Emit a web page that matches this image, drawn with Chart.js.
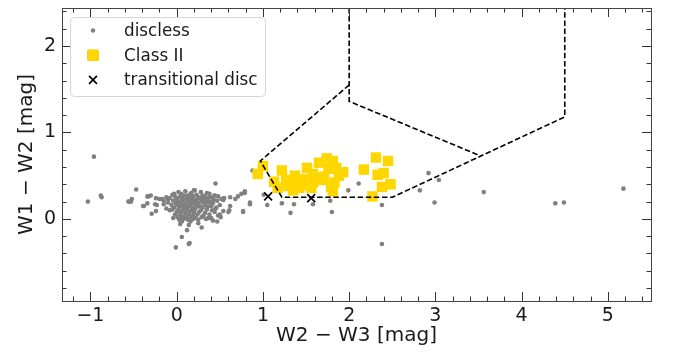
<!DOCTYPE html>
<html>
<head>
<meta charset="utf-8">
<script src="https://cdn.jsdelivr.net/npm/chart.js@4.4.1/dist/chart.umd.min.js"></script>
<style>
  html, body { margin: 0; padding: 0; background: #fff; }
  #wrap { width: 676px; height: 352px; }
</style>
</head>
<body>
<div id="wrap"><canvas id="ccd"></canvas></div>
<script>
// axis ranges
const xMin = -1.33, xMax = 5.5;
const yMin = -0.95, yMax = 2.44;

// W2-W3, W1-W2 pairs for the disc-less sources
const discless = [
  // outliers to the left
  [-0.96, 0.72], [-1.03, 0.20], [-0.88, 0.27], [-0.87, 0.25], [-0.56, 0.20], [-0.53, 0.20],
  [-0.52, 0.23], [-0.47, 0.34], [-0.39, 0.15], [-0.34, 0.26], [-0.34, 0.18], [-0.55, 0.20],
  [-0.33, 0.26], [-0.30, 0.27], [-0.38, 0.15], [-0.24, 0.24], [-0.25, 0.17], [-0.23, 0.16],
  [-0.17, 0.23], [-0.15, 0.17], [-0.29, 0.06], [-0.24, 0.09], [-0.10, 0.23], [-0.12, 0.12],
  [-0.08, 0.10], [-0.03, 0.29], [-0.04, 0.01],
  // main clump
  [0.02, 0.31], [0.10, 0.32], [0.17, 0.30], [0.21, 0.33], [0.28, 0.31], [0.35, 0.30],
  [-0.05, 0.28], [0.05, 0.29], [0.12, 0.27], [0.16, 0.29], [0.23, 0.28], [0.30, 0.27], [0.38, 0.29], [0.44, 0.27],
  [-0.12, 0.25], [-0.02, 0.26], [0.03, 0.25], [0.08, 0.27], [0.14, 0.25], [0.19, 0.26], [0.25, 0.25], [0.33, 0.26], [0.40, 0.25], [0.48, 0.26],
  [-0.20, 0.23], [-0.08, 0.24], [0.00, 0.23], [0.06, 0.24], [0.11, 0.23], [0.17, 0.24], [0.21, 0.22], [0.27, 0.24], [0.31, 0.23], [0.36, 0.24], [0.43, 0.22], [0.55, 0.24],
  [-0.15, 0.21], [-0.04, 0.21], [0.02, 0.20], [0.07, 0.22], [0.13, 0.21], [0.18, 0.20], [0.23, 0.21], [0.29, 0.20], [0.34, 0.21], [0.39, 0.20], [0.47, 0.21],
  [-0.10, 0.19], [-0.01, 0.18], [0.04, 0.19], [0.09, 0.18], [0.15, 0.19], [0.20, 0.18], [0.25, 0.19], [0.32, 0.18], [0.37, 0.19], [0.42, 0.18],
  [-0.06, 0.16], [0.01, 0.16], [0.06, 0.15], [0.11, 0.16], [0.16, 0.15], [0.22, 0.16], [0.27, 0.15], [0.33, 0.16], [0.40, 0.15], [0.50, 0.16],
  [-0.03, 0.13], [0.03, 0.14], [0.08, 0.13], [0.13, 0.14], [0.18, 0.13], [0.24, 0.14], [0.30, 0.13], [0.36, 0.14], [0.46, 0.13],
  [-0.05, 0.11], [0.02, 0.11], [0.07, 0.10], [0.12, 0.11], [0.17, 0.10], [0.21, 0.11], [0.28, 0.10], [0.35, 0.11], [0.41, 0.10],
  [0.00, 0.08], [0.05, 0.08], [0.10, 0.07], [0.15, 0.08], [0.20, 0.07], [0.26, 0.08], [0.33, 0.07], [0.44, 0.08],
  [-0.02, 0.05], [0.04, 0.05], [0.09, 0.04], [0.14, 0.05], [0.19, 0.04], [0.24, 0.05], [0.31, 0.04], [0.38, 0.05],
  [0.01, 0.02], [0.06, 0.02], [0.12, 0.01], [0.17, 0.02], [0.22, 0.01], [0.29, 0.02], [0.40, 0.01],
  [0.03, -0.01], [0.08, 0.00], [0.13, -0.01], [0.19, 0.00], [0.25, -0.01], [0.34, 0.00],
  [0.06, -0.03], [0.16, -0.03], [0.25, -0.05], [0.42, -0.02], [0.47, -0.03],
  [0.04, -0.06], [0.14, -0.07], [0.29, -0.10], [0.12, -0.13],
  [0.06, -0.21], [0.14, -0.29], [-0.01, -0.33], [0.15, -0.28],
  // right-hand tail
  [0.45, 0.41], [0.20, 0.33], [0.44, 0.27], [0.52, 0.23], [0.53, 0.23], [0.54, 0.22],
  [0.62, 0.25], [0.68, 0.23], [0.71, 0.26], [0.75, 0.29], [0.79, 0.32], [0.85, 0.17],
  [0.62, 0.15], [0.54, 0.09], [0.61, 0.10], [0.77, 0.08], [0.45, 0.12], [0.48, 0.04],
  [0.51, 0.02], [0.37, 0.01], [0.60, 0.08], [0.50, 0.05],
  // scattered beyond the clump
  [1.01, 0.28], [0.88, 0.56], [0.79, 0.30], [0.85, 0.19], [0.77, 0.09], [1.05, 0.16],
  [1.22, 0.18], [1.32, 0.07], [1.36, 0.17], [1.58, 0.17], [1.78, 0.21], [1.80, 0.08],
  [1.99, 0.33], [2.11, 0.41], [2.38, 0.16], [2.92, 0.53], [3.04, 0.45], [2.82, 0.33],
  [2.99, 0.19], [3.56, 0.31], [4.39, 0.18], [4.49, 0.19], [5.18, 0.35], [2.38, -0.29]
];

// Class II sources
const classII = [
  [1.00, 0.61], [0.94, 0.52], [1.13, 0.43], [1.17, 0.36], [1.22, 0.56], [1.29, 0.38],
  [1.35, 0.33], [1.37, 0.50], [1.46, 0.46], [1.48, 0.39], [1.51, 0.59], [1.58, 0.52],
  [1.58, 0.42], [1.56, 0.36], [1.65, 0.65], [1.68, 0.45], [1.71, 0.49], [1.74, 0.70],
  [1.79, 0.37], [1.81, 0.32], [1.81, 0.67], [1.85, 0.59], [1.83, 0.42], [1.93, 0.54],
  [1.40, 0.42], [1.76, 0.58], [1.62, 0.47], [1.42, 0.36], [1.27, 0.45], [1.88, 0.50],
  [2.17, 0.57], [2.31, 0.71], [2.45, 0.67], [2.33, 0.51], [2.40, 0.53], [2.38, 0.37],
  [2.48, 0.40], [2.27, 0.26]
];

// transitional discs
const transitional = [[1.06, 0.26], [1.56, 0.24]];

// dashed selection boundaries
const boundaryLeft = [[2.0, 1.55], [0.97, 0.67], [1.22, 0.25], [2.5, 0.25], [4.5, 1.18], [4.5, yMax]];
const boundaryUpper = [[2.0, yMax], [2.0, 1.36], [3.52, 0.73]];

const labels = ['discless', 'Class II', 'transitional disc'];

const toXY = arr => arr.map(p => ({ x: p[0], y: p[1] }));
const minus = v => (v < 0 ? '\u2212' + Math.abs(v) : String(v));

Chart.defaults.font.family = "'DejaVu Sans', sans-serif";
Chart.defaults.color = '#1a1a1a';

// matplotlib-ish frame with inward major/minor ticks
const frameTicks = {
  id: 'frameTicks',
  afterDatasetsDraw(chart) {
    const { ctx, chartArea: a, scales: { x, y } } = chart;
    ctx.save();
    ctx.strokeStyle = '#333';
    ctx.lineWidth = 1;
    ctx.beginPath();
    for (let i = -13; i <= 54; i++) {
      const v = i / 10;
      if (i % 2 !== 0 || v < xMin || v > xMax) continue;
      const px = Math.round(x.getPixelForValue(v)) + 0.5;
      const len = i % 10 === 0 ? 9 : 4.5;
      ctx.moveTo(px, a.bottom); ctx.lineTo(px, a.bottom - len);
      ctx.moveTo(px, a.top); ctx.lineTo(px, a.top + len);
    }
    for (let i = -8; i <= 24; i += 2) {
      const v = i / 10;
      const py = Math.round(y.getPixelForValue(v)) + 0.5;
      const len = i % 10 === 0 ? 9 : 4.5;
      ctx.moveTo(a.left, py); ctx.lineTo(a.left + len, py);
      ctx.moveTo(a.right, py); ctx.lineTo(a.right - len, py);
    }
    ctx.stroke();
    ctx.strokeStyle = '#444';
    ctx.strokeRect(Math.round(a.left) + 0.5, Math.round(a.top) + 0.5,
      Math.round(a.right - a.left), Math.round(a.bottom - a.top));
    ctx.restore();
  },
  afterDraw(chart) {
    // legend box in the upper left corner
    const { ctx } = chart;
    const bx = 70, by = 17, bw = 195, bh = 79;
    ctx.save();
    ctx.beginPath();
    ctx.roundRect(bx + 0.5, by + 0.5, bw, bh, 4);
    ctx.fillStyle = 'rgba(255,255,255,0.8)';
    ctx.fill();
    ctx.strokeStyle = '#d6d6d6';
    ctx.lineWidth = 1;
    ctx.stroke();
    const ds = chart.data.datasets;
    ctx.font = "16.8px 'DejaVu Sans'";
    ctx.textBaseline = 'middle';
    for (let i = 0; i < 3; i++) {
      const d = ds[i];
      const rowY = 30.5 + i * 24.7;
      Chart.helpers.drawPoint(ctx, {
        pointStyle: d.pointStyle,
        radius: i === 0 ? 1.8 : d.pointRadius,
        borderWidth: d.borderWidth
      }, 93, rowY);
      ctx.fillStyle = d.backgroundColor;
      ctx.strokeStyle = d.borderColor;
      ctx.lineWidth = d.borderWidth;
      ctx.fill();
      ctx.stroke();
      ctx.fillStyle = '#1a1a1a';
      ctx.fillText(labels[i], 124, rowY + 1);
    }
    ctx.restore();
  }
};

new Chart(document.getElementById('ccd'), {
  type: 'scatter',
  data: {
    datasets: [
      {
        label: labels[0], data: toXY(discless), order: 5,
        pointStyle: 'circle', pointRadius: 2.3, borderWidth: 0,
        backgroundColor: '#808080', borderColor: '#808080'
      },
      {
        label: labels[1], data: toXY(classII), order: 2,
        pointStyle: 'rect', pointRadius: 7.4, borderWidth: 0,
        backgroundColor: '#ffd700', borderColor: '#ffd700'
      },
      {
        label: labels[2], data: toXY(transitional), order: 1,
        pointStyle: 'crossRot', pointRadius: 5.6, borderWidth: 1.7,
        backgroundColor: '#000', borderColor: '#000'
      },
      {
        label: 'boundary', data: toXY(boundaryLeft), order: 0, showLine: true,
        pointRadius: 0, borderColor: '#000', borderWidth: 1.6, borderDash: [5.5, 2.6], fill: false
      },
      {
        label: 'boundary2', data: toXY(boundaryUpper), order: 0, showLine: true,
        pointRadius: 0, borderColor: '#000', borderWidth: 1.6, borderDash: [5.5, 2.6], fill: false
      }
    ]
  },
  options: {
    responsive: true,
    maintainAspectRatio: false,
    animation: false,
    devicePixelRatio: 1,
    layout: { padding: { top: 8, right: 25, left: 0, bottom: 0 } },
    plugins: { legend: { display: false }, tooltip: { enabled: false } },
    scales: {
      x: {
        type: 'linear', min: xMin, max: xMax,
        grid: { display: false, drawTicks: false }, border: { display: false },
        ticks: { stepSize: 1, includeBounds: false, padding: 4, font: { size: 19 }, callback: v => minus(v) },
        title: { display: true, text: 'W2 \u2212 W3 [mag]', font: { size: 20 }, padding: { top: 0, bottom: 4 } },
        afterFit: s => { s.height = 51; s.paddingLeft = 0; s.paddingRight = 0; }
      },
      y: {
        type: 'linear', min: yMin, max: yMax,
        grid: { display: false, drawTicks: false }, border: { display: false },
        ticks: { stepSize: 1, includeBounds: false, padding: 6, font: { size: 19 }, callback: v => minus(v) },
        title: { display: true, text: 'W1 \u2212 W2 [mag]', font: { size: 20 }, padding: { top: 15, bottom: 0 } },
        afterFit: s => { s.width = 62; s.paddingTop = 0; s.paddingBottom = 0; }
      }
    }
  },
  plugins: [frameTicks]
});
</script>
</body>
</html>
